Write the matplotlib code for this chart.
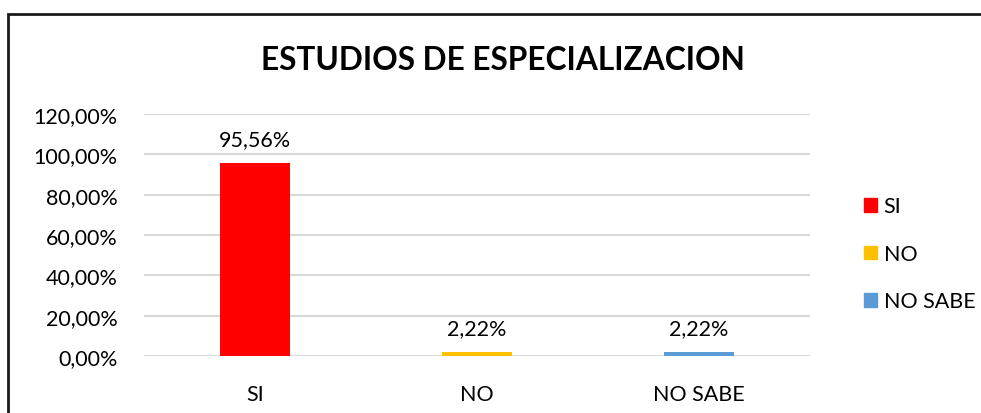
import numpy as np
import matplotlib
matplotlib.use("Agg")
import matplotlib.pyplot as plt
from matplotlib.patches import Rectangle

plt.rcParams['font.family'] = ['Lato', 'DejaVu Sans']

categories = ["SI", "NO", "NO SABE"]
values = [95.56, 2.22, 2.22]
colors = ["#ff0000", "#ffc000", "#5b9bd5"]
yticks = [0, 20, 40, 60, 80, 100, 120]

fig = plt.figure(figsize=(9.81, 4.14), dpi=100)
ax = fig.add_axes([144/981, 1-357/414, (810-144)/981, (357-115)/414])

x = np.arange(len(categories))
bars = ax.bar(x, values, width=0.315, color=colors, zorder=3)

for xi, v in zip(x, values):
    ax.annotate(f"{v:.2f}%".replace(".", ","), (xi, v), xytext=(0, 10),
                textcoords="offset points", ha="center", va="bottom", fontsize=15.5)

ax.set_xlim(-0.5, 2.5)
ax.set_ylim(0, 120)
ax.set_yticks(yticks)
ax.set_yticklabels([f"{t:.2f}%".replace(".", ",") for t in yticks], fontsize=15.5)
ax.set_xticks(x)
ax.set_xticklabels(categories, fontsize=15.5)
ax.tick_params(length=0)
ax.tick_params(axis='y', pad=19)
ax.tick_params(axis='x', pad=20)
ax.yaxis.grid(True, color="#d9d9d9", linewidth=1.5, zorder=0)
for s in ax.spines.values():
    s.set_visible(False)

handles = [Rectangle((0, 0), 1, 1, color=c) for c in colors]
fig.legend(handles, categories, loc="upper left", bbox_to_anchor=(845/981, 1-178/414),
           frameon=False, fontsize=15.5, handlelength=0.6, handleheight=0.6,
           handletextpad=0.3, labelspacing=1.28)

fig.text(503/981, 1-60/414, "ESTUDIOS DE ESPECIALIZACION", ha="center", va="center",
         fontsize=22.8, fontweight="bold")

fig.patches.append(Rectangle((8/981, -0.1), 1.1, 1-15/414+0.1, transform=fig.transFigure,
                             fill=False, edgecolor="#1a1a1a", linewidth=2))

fig.savefig("out.png", dpi=100)
